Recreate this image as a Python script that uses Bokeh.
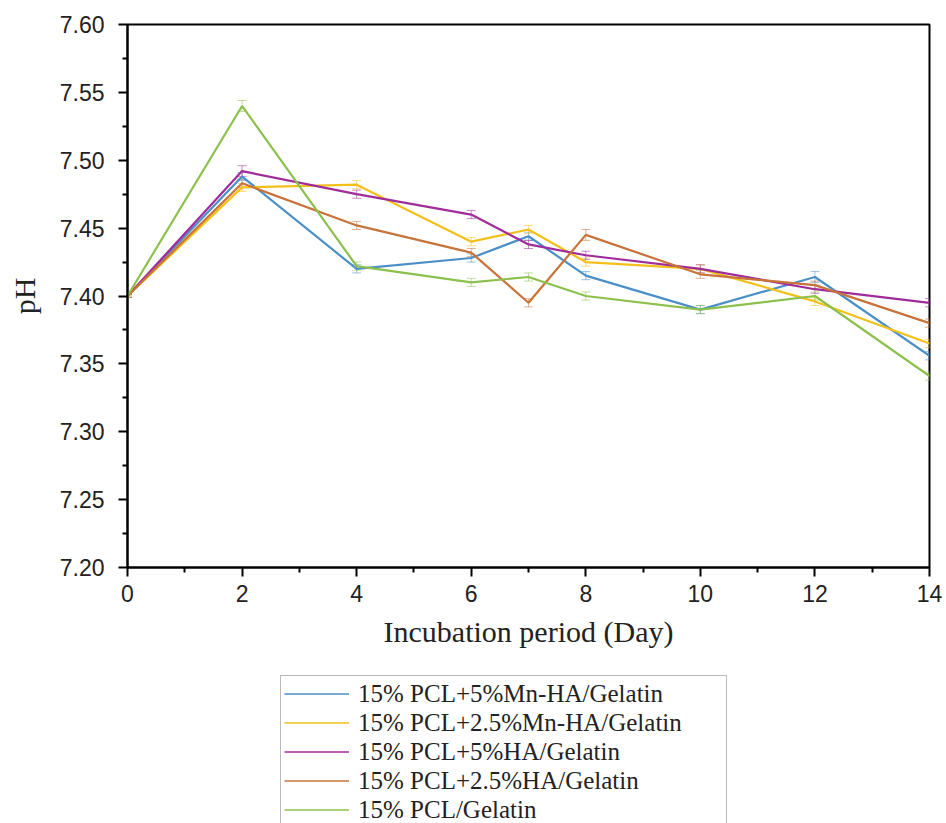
from bokeh.plotting import figure
from bokeh.layouts import column
from bokeh.models import (ColumnDataSource, Legend, LegendItem, FixedTicker,
                          PrintfTickFormatter, Whisker, TeeHead, Range1d)
from bokeh.embed import file_html
from bokeh.resources import INLINE

days = [0, 2, 4, 6, 7, 8, 10, 12, 14]
names = ["15% PCL+5%Mn-HA/Gelatin", "15% PCL+2.5%Mn-HA/Gelatin",
         "15% PCL+5%HA/Gelatin", "15% PCL+2.5%HA/Gelatin", "15% PCL/Gelatin"]
ph_mnha5 = [7.400, 7.488, 7.420, 7.428, 7.444, 7.415, 7.390, 7.414, 7.356]
ph_mnha25 = [7.400, 7.480, 7.482, 7.440, 7.449, 7.425, 7.420, 7.396, 7.365]
ph_ha5 = [7.400, 7.492, 7.475, 7.460, 7.438, 7.430, 7.420, 7.405, 7.395]
ph_ha25 = [7.400, 7.483, 7.452, 7.432, 7.395, 7.445, 7.416, 7.408, 7.380]
ph_pcl = [7.400, 7.540, 7.422, 7.410, 7.414, 7.400, 7.390, 7.400, 7.341]
err_mnha5 = [0.001, 0.003, 0.003, 0.003, 0.003, 0.003, 0.003, 0.004, 0.003]
err_mnha25 = [0.001, 0.003, 0.003, 0.003, 0.003, 0.003, 0.003, 0.003, 0.003]
err_ha5 = [0.001, 0.004, 0.003, 0.003, 0.003, 0.003, 0.003, 0.003, 0.003]
err_ha25 = [0.001, 0.003, 0.003, 0.003, 0.003, 0.004, 0.003, 0.003, 0.003]
err_pcl = [0.001, 0.004, 0.003, 0.003, 0.003, 0.003, 0.003, 0.003, 0.003]
y_ticks = [7.20, 7.25, 7.30, 7.35, 7.40, 7.45, 7.50, 7.55, 7.60]
x_ticks = [0, 2, 4, 6, 8, 10, 12, 14]

series = [ph_mnha5, ph_mnha25, ph_ha5, ph_ha25, ph_pcl]
errors = [err_mnha5, err_mnha25, err_ha5, err_ha25, err_pcl]
colors = ["#4a8fc6", "#f2c018", "#a02c9c", "#c8733a", "#8cc04c"]

SERIF = "Liberation Serif"
SANS = "Liberation Sans"

p = figure(width=946, height=660, output_backend="svg", toolbar_location=None,
           x_range=Range1d(0, 14), y_range=Range1d(7.20, 7.60),
           min_border_left=127, min_border_right=17, min_border_top=24,
           min_border_bottom=93)
p.background_fill_color = "white"
p.border_fill_color = "white"
p.outline_line_color = "black"
p.outline_line_width = 2
p.grid.visible = False

p.xaxis.ticker = FixedTicker(ticks=x_ticks, minor_ticks=[1, 3, 5, 7, 9, 11, 13])
p.yaxis.ticker = FixedTicker(ticks=y_ticks,
                             minor_ticks=[7.225, 7.275, 7.325, 7.375, 7.425, 7.475, 7.525, 7.575])
p.yaxis.formatter = PrintfTickFormatter(format="%.2f")
for ax in (p.xaxis, p.yaxis):
    ax.axis_line_width = 2
    ax.axis_line_color = "black"
    ax.major_tick_line_width = 2
    ax.minor_tick_line_width = 2
    ax.major_tick_out = 9
    ax.major_tick_in = 0
    ax.minor_tick_out = 5
    ax.minor_tick_in = 0
    ax.major_label_text_font = SANS
    ax.major_label_text_font_size = "23px"
    ax.major_label_text_color = "#222222"
    ax.axis_label_text_font = SERIF
    ax.axis_label_text_font_style = "normal"
    ax.axis_label_text_color = "#222222"
p.xaxis.axis_label = "Incubation period (Day)"
p.xaxis.axis_label_text_font_size = "30px"
p.xaxis.major_label_standoff = 8
p.xaxis.axis_label_standoff = 10
p.yaxis.axis_label = "pH"
p.yaxis.axis_label_text_font_size = "30px"
p.yaxis.major_label_standoff = 14
p.yaxis.axis_label_standoff = 16

for vals, errs, c in zip(series, errors, colors):
    src = ColumnDataSource(dict(x=days, y=vals,
                                lo=[v - e for v, e in zip(vals, errs)],
                                hi=[v + e for v, e in zip(vals, errs)]))
    w = Whisker(source=src, base="x", lower="lo", upper="hi",
                line_color=c, line_alpha=0.55, line_width=1,
                upper_head=TeeHead(size=9, line_color=c, line_alpha=0.55, line_width=1),
                lower_head=TeeHead(size=9, line_color=c, line_alpha=0.55, line_width=1))
    p.add_layout(w)
    p.line("x", "y", source=src, line_color=c, line_width=2.2)

# legend panel below the chart (its frame is aligned with the chart's frame);
# the series are drawn here far outside the visible range, only for legend glyphs
lp = figure(width=946, height=163, output_backend="svg", toolbar_location=None,
            x_axis_type=None, y_axis_type=None, x_range=Range1d(100, 101), y_range=Range1d(0, 1),
            min_border_left=0, min_border_right=0, min_border_top=0, min_border_bottom=0)
lp.outline_line_color = None
lp.grid.visible = False
lp.background_fill_color = "white"
lp.border_fill_color = "white"
items = []
for n, vals, c in zip(names, series, colors):
    r = lp.line(x=days, y=vals, line_color=c, line_width=1.6)
    items.append(LegendItem(label=n, renderers=[r]))

legend = Legend(items=items, location=(153, -5))
legend.label_text_font = SERIF
legend.label_text_font_size = "25px"
legend.label_text_color = "#222222"
legend.glyph_width = 65
legend.glyph_height = 29
legend.label_height = 29
legend.label_width = 365
legend.label_standoff = 9
legend.spacing = 0
legend.padding = 3
legend.margin = 0
legend.border_line_color = "#777777"
legend.border_line_width = 1
legend.background_fill_color = "white"
legend.background_fill_alpha = 1
lp.add_layout(legend, "center")

layout = column(p, lp, spacing=0)
open("out.html", "w").write(file_html(layout, INLINE))
